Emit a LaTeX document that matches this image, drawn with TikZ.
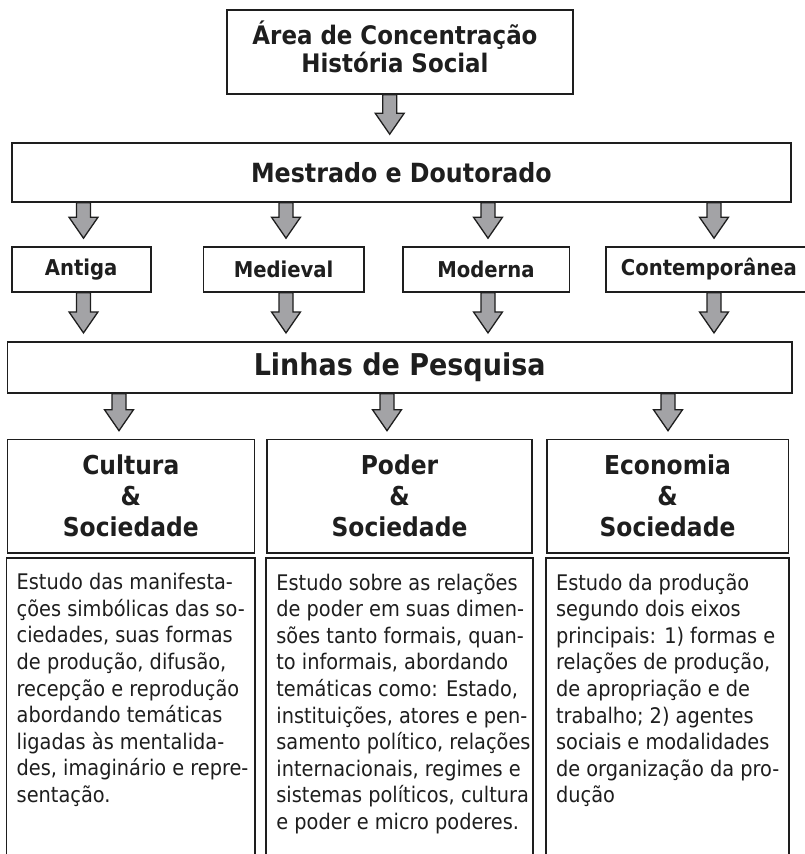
\documentclass[tikz,border=0pt]{standalone}
\usepackage{fontspec}
\setmainfont{DejaVu Sans Condensed}
\usetikzlibrary{calc}
\definecolor{arrowgray}{RGB}{163,163,166}
\definecolor{ink}{RGB}{30,30,30}
\begin{document}
\begin{tikzpicture}[x=1pt,y=-1pt,
  box/.style={draw=ink, line width=1.6pt, inner sep=0pt, align=center, text=ink},
  boxline/.style={draw=ink, line width=1.6pt},
  desc/.style={inner sep=0pt, align=left, text=ink, font=\fontsize{21.5}{26.6}\selectfont},
  blockarrow/.style={to path={let \p1=(\tikztostart), \p2=(\tikztotarget) in
    (\x1-7pt,\y1) -- (\x1+7pt,\y1) -- (\x1+7pt,\y2+29pt) -- (\x1+14.5pt,\y2+29pt) --
    (\x1,\y2+8pt) -- (\x1-14.5pt,\y2+29pt) -- (\x1-7pt,\y2+29pt) -- cycle},
    draw=ink, line width=1.3pt, fill=arrowgray, line join=miter},
  hdr/.style={font=\bfseries\fontsize{26.4}{30}\selectfont},
  per/.style={font=\bfseries\fontsize{21.8}{24}\selectfont},
  ttl/.style={font=\bfseries\fontsize{26}{31}\selectfont}
]
\useasboundingbox (0,0) rectangle (805,854);

% boxes
\node[box, minimum width=346, minimum height=84] (top) at (400,52) {};
\node[inner sep=0pt, align=center, text=ink, font=\bfseries\fontsize{25.5}{27.3}\selectfont] (toptext) at (395,47) {Área de Concentração\\História Social};
\node[box, hdr, minimum width=779.3, minimum height=59] (mest) at (401.35,172.5) {Mestrado e Doutorado};

\node[box, per, minimum width=139, minimum height=45] (antiga) at (81.2,269.5) {Antiga};
\node[box, per, minimum width=160.7, minimum height=45] (medieval) at (283.65,269.5) {Medieval};
\node[box, per, minimum width=166.6, minimum height=45] (moderna) at (486,269.5) {Moderna};
\node[box, per, minimum width=206.3, minimum height=45] (contemp) at (708.85,269.5) {Contemporânea};

\node[box, font=\bfseries\fontsize{30}{32}\selectfont, minimum width=784.7, minimum height=51.3] (linhas) at (399.65,367.35) {Linhas de Pesquisa};

\node[box, ttl, minimum width=247, minimum height=113.5] (cultura) at (130.8,496.25) {Cultura\\\&\\Sociedade};
\node[box, ttl, minimum width=265, minimum height=113.5] (poder) at (399.5,496.25) {Poder\\\&\\Sociedade};
\node[box, ttl, minimum width=241.6, minimum height=113.5] (economia) at (667.5,496.25) {Economia\\\&\\Sociedade};

% open description boxes
\coordinate (cdl) at ($(cultura.south west)+(0,4.3)$);
\coordinate (cdr) at ($(cultura.south east)+(0,4.3)$);
\coordinate (pdl) at ($(poder.south west)+(0,4.3)$);
\coordinate (pdr) at ($(poder.south east)+(0,4.3)$);
\coordinate (edl) at ($(economia.south west)+(0,4.3)$);
\coordinate (edr) at ($(economia.south east)+(0,4.3)$);
\draw[boxline] (cdl |- 0,870) -- (cdl) -- (cdr) -- (cdr |- 0,870);
\draw[boxline] (pdl |- 0,870) -- (pdl) -- (pdr) -- (pdr |- 0,870);
\draw[boxline] (edl |- 0,870) -- (edl) -- (edr) -- (edr |- 0,870);

\node[desc, anchor=north west] (cdesc) at ($(cdl)+(10,15)$) {Estudo das manifesta-\\ções simbólicas das so-\\ciedades, suas formas\\de produção, difusão,\\recepção e reprodução\\abordando temáticas\\ligadas às mentalida-\\des, imaginário e repre-\\sentação.};
\node[desc, anchor=north west] (pdesc) at ($(pdl)+(10,15)$) {Estudo sobre as relações\\de poder em suas dimen-\\sões tanto formais, quan-\\to informais, abordando\\temáticas como: Estado,\\instituições, atores e pen-\\samento político, relações\\internacionais, regimes e\\sistemas políticos, cultura\\e poder e micro poderes.};
\node[desc, anchor=north west] (edesc) at ($(edl)+(10,15)$) {Estudo da produção\\segundo dois eixos\\principais: 1) formas e\\relações de produção,\\de apropriação e de\\trabalho; 2) agentes\\sociais e modalidades\\de organização da pro-\\dução};

% arrows
\draw[blockarrow] (top.south -| 389.7,0) to (mest.north -| 389.7,0);
\draw[blockarrow] (mest.south -| 83.5,0) to (antiga.north -| 83.5,0);
\draw[blockarrow] (mest.south -| 286,0) to (medieval.north -| 286,0);
\draw[blockarrow] (mest.south -| 488,0) to (moderna.north -| 488,0);
\draw[blockarrow] (mest.south -| 714,0) to (contemp.north -| 714,0);
\draw[blockarrow] (antiga.south -| 83.5,0) to (linhas.north -| 83.5,0);
\draw[blockarrow] (medieval.south -| 286,0) to (linhas.north -| 286,0);
\draw[blockarrow] (moderna.south -| 488,0) to (linhas.north -| 488,0);
\draw[blockarrow] (contemp.south -| 714,0) to (linhas.north -| 714,0);
\draw[blockarrow] (linhas.south -| 119,0) to (cultura.north -| 119,0);
\draw[blockarrow] (linhas.south -| 387,0) to (poder.north -| 387,0);
\draw[blockarrow] (linhas.south -| 668,0) to (economia.north -| 668,0);
\end{tikzpicture}
\end{document}
